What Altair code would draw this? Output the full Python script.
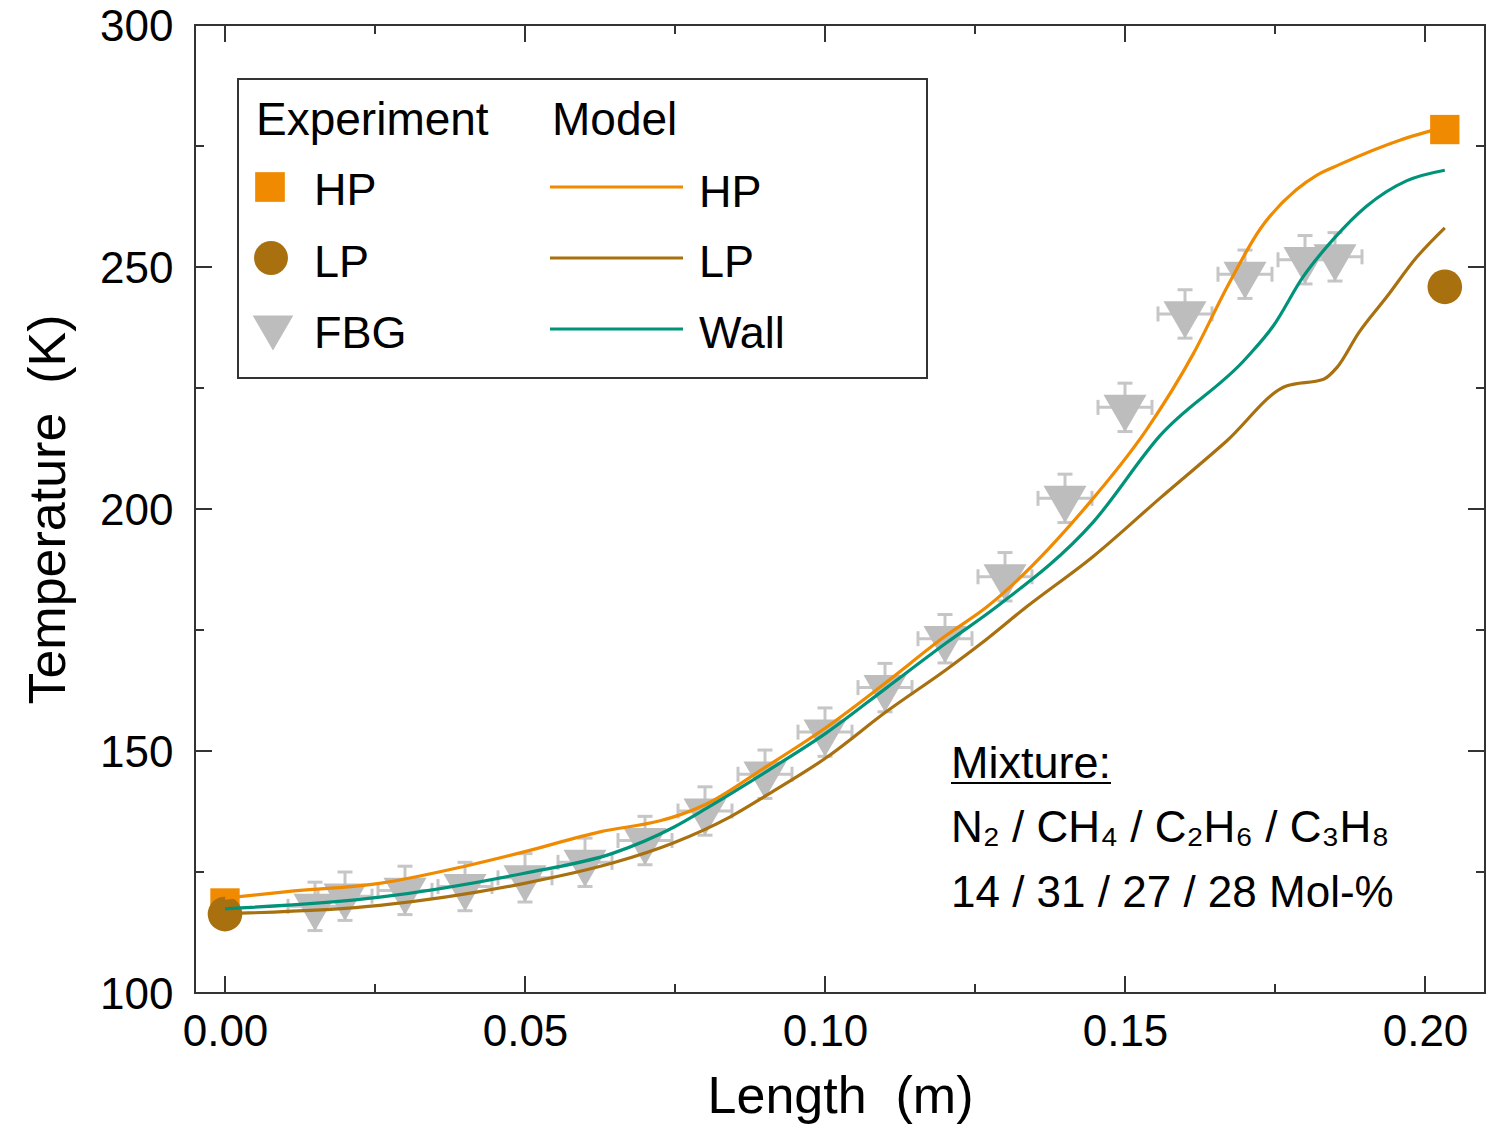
import altair as alt
import pandas as pd

# ---------------- data ----------------
hp_model_x = [0.0, 0.01, 0.026, 0.04, 0.05, 0.0625, 0.0725, 0.0758, 0.08, 0.09, 0.10, 0.11, 0.12, 0.127,
              0.1436, 0.1536, 0.1614, 0.167, 0.1725, 0.1786, 0.182, 0.1858, 0.1958, 0.2033]
hp_model_T = [119.6, 120.9, 122.7, 126.2, 129.2, 133.3, 135.6, 136.8, 138.9, 146.6, 154.7, 164.0, 173.7, 179.8,
              200.6, 216.4, 232.1, 245.8, 257.8, 266.0, 269.0, 271.2, 276.2, 278.9]
lp_model_x = [0.0, 0.0258, 0.0497, 0.065, 0.0747, 0.0842, 0.0903, 0.1003, 0.1103, 0.1203, 0.1258, 0.1336,
              0.1447, 0.1558, 0.1669, 0.1769, 0.1831, 0.1853, 0.189, 0.1936, 0.1986, 0.2033]
lp_model_T = [116.4, 118.1, 122.6, 127.0, 131.0, 136.4, 140.9, 148.7, 158.2, 166.9, 172.0, 179.8,
              190.2, 202.2, 214.0, 225.4, 226.8, 229.2, 236.5, 243.8, 252.0, 258.1]
wall_model_x = [0.0, 0.0258, 0.0497, 0.0647, 0.0747, 0.0803, 0.0903, 0.1003, 0.1103, 0.1203, 0.1286,
                0.1447, 0.1558, 0.1703, 0.1747, 0.1797, 0.1847, 0.1903, 0.1969, 0.2033]
wall_model_T = [117.4, 119.8, 124.7, 128.9, 134.2, 138.2, 145.8, 153.8, 163.1, 172.4, 179.8,
                197.3, 215.1, 231.3, 237.8, 248.0, 255.7, 262.6, 267.8, 270.0]

fbg_x = [0.015, 0.020, 0.030, 0.040, 0.050, 0.060, 0.070, 0.080, 0.090, 0.100, 0.110, 0.120,
         0.130, 0.140, 0.150, 0.160, 0.170, 0.180, 0.185]
fbg_T = [117.9, 120.0, 121.2, 122.0, 123.8, 127.0, 131.5, 137.6, 145.2, 153.9, 163.1, 173.2,
         186.0, 202.2, 221.0, 240.3, 248.5, 251.5, 252.1]
fbg_xerr = 0.0045
fbg_Terr = 5.0

hp_exp_x = [0.0, 0.2033]
hp_exp_T = [118.6, 278.4]
lp_exp_x = [0.0, 0.2033]
lp_exp_T = [116.3, 245.9]

x_major = [0.0, 0.05, 0.10, 0.15, 0.20]
x_minor = [0.025, 0.075, 0.125, 0.175]
y_major = [100, 150, 200, 250, 300]
y_minor = [125, 175, 225, 275]

series_names = ["HP", "LP", "Wall"]
C_HP = "#F08A00"
C_LP = "#A8700F"
C_WALL = "#00937A"
C_FBG = "#BDBDBD"
C_ERR = "#C6C6C6"
C_FRAME = "#333333"

# ---------------- tables ----------------
model_df = pd.concat([
    pd.DataFrame({"x": hp_model_x, "T": hp_model_T, "s": "HP"}),
    pd.DataFrame({"x": lp_model_x, "T": lp_model_T, "s": "LP"}),
    pd.DataFrame({"x": wall_model_x, "T": wall_model_T, "s": "Wall"}),
], ignore_index=True)

fbg_df = pd.DataFrame({"x": fbg_x, "T": fbg_T})
fbg_df["xlo"] = fbg_df["x"] - fbg_xerr
fbg_df["xhi"] = fbg_df["x"] + fbg_xerr
fbg_df["lo"] = fbg_df["T"] - fbg_Terr
fbg_df["hi"] = fbg_df["T"] + fbg_Terr

hp_df = pd.DataFrame({"x": hp_exp_x, "T": hp_exp_T})
lp_df = pd.DataFrame({"x": lp_exp_x, "T": lp_exp_T})
one = pd.DataFrame({"a": [0]})

W, H = 1290, 968
xs = alt.Scale(domain=[-0.005, 0.21], nice=False, zero=False)
ys = alt.Scale(domain=[100, 300], nice=False, zero=False)
FONT = "Liberation Sans"
NB = "\u00a0"

x_axis = alt.Axis(title=f"Length{NB}{NB}(m)", values=x_major, format=".2f", labelFlush=False,
                  labelPadding=17, titlePadding=17)
y_axis = alt.Axis(title=f"Temperature{NB}{NB}(K)", values=y_major, format="d", labelFlush=False,
                  labelPadding=22, titlePadding=24, labelOffset=2)


def X(f="x", axis=None):
    if axis is None:
        return alt.X(f"{f}:Q", scale=xs)
    return alt.X(f"{f}:Q", scale=xs, axis=axis)


def Y(f="T", axis=None):
    if axis is None:
        return alt.Y(f"{f}:Q", scale=ys)
    return alt.Y(f"{f}:Q", scale=ys, axis=axis)


# error bars
err_v = alt.Chart(fbg_df).mark_rule(color=C_ERR, strokeWidth=3).encode(
    x=X(axis=x_axis), y=Y("lo", axis=y_axis), y2="hi:Q")
err_h = alt.Chart(fbg_df).mark_rule(color=C_ERR, strokeWidth=3).encode(y=Y(), x=X("xlo"), x2="xhi:Q")
cap_lo = alt.Chart(fbg_df).mark_tick(color=C_ERR, orient="horizontal", size=15, thickness=3, opacity=1).encode(x=X(), y=Y("lo"))
cap_hi = alt.Chart(fbg_df).mark_tick(color=C_ERR, orient="horizontal", size=15, thickness=3, opacity=1).encode(x=X(), y=Y("hi"))
cap_l = alt.Chart(fbg_df).mark_tick(color=C_ERR, orient="vertical", size=15, thickness=3, opacity=1).encode(x=X("xlo"), y=Y())
cap_r = alt.Chart(fbg_df).mark_tick(color=C_ERR, orient="vertical", size=15, thickness=3, opacity=1).encode(x=X("xhi"), y=Y())

fbg_pts = alt.Chart(fbg_df).mark_point(shape="triangle-down", filled=True, size=1850, color=C_FBG,
                                       opacity=1, yOffset=6).encode(x=X(), y=Y())

hp_pts = alt.Chart(hp_df).mark_point(shape="square", filled=True, size=860, color=C_HP, opacity=1).encode(x=X(), y=Y())
lp_pts = alt.Chart(lp_df).mark_point(shape="circle", filled=True, size=1200, color=C_LP, opacity=1).encode(x=X(), y=Y())

lines = alt.Chart(model_df).mark_line(strokeWidth=3.2, interpolate="monotone").encode(
    x=X(), y=Y(),
    color=alt.Color("s:N", scale=alt.Scale(domain=series_names, range=[C_HP, C_LP, C_WALL]), legend=None),
    order=alt.Order("x:Q"),
)

# inward ticks on all four sides
xmaj = pd.DataFrame({"x": x_major})
xmin = pd.DataFrame({"x": x_minor})
ymaj = pd.DataFrame({"T": y_major})
ymin = pd.DataFrame({"T": y_minor})


def xticks(df, y0, y1):
    return alt.Chart(df).mark_rule(color=C_FRAME, strokeWidth=2).encode(x=X(), y=alt.value(y0), y2=alt.value(y1))


def yticks(df, x0, x1):
    return alt.Chart(df).mark_rule(color=C_FRAME, strokeWidth=2).encode(y=Y(), x=alt.value(x0), x2=alt.value(x1))


ticks = [
    xticks(xmaj, H, H - 17), xticks(xmin, H, H - 9), xticks(xmaj, 0, 17), xticks(xmin, 0, 9),
    yticks(ymaj, 0, 17), yticks(ymin, 0, 9), yticks(ymaj, W, W - 17), yticks(ymin, W, W - 9),
]

# legend (drawn by hand)
def txt(s, x, y, size=45):
    return alt.Chart(one).mark_text(text=s, align="left", baseline="alphabetic", fontSize=size,
                                    font=FONT, color="black").encode(x=alt.value(x), y=alt.value(y))


def lgd_line(color, y):
    return alt.Chart(one).mark_rule(color=color, strokeWidth=3.2).encode(
        x=alt.value(355), x2=alt.value(488), y=alt.value(y))


legend_box = alt.Chart(one).mark_rect(fill="white", stroke=C_FRAME, strokeWidth=2).encode(
    x=alt.value(43), x2=alt.value(732), y=alt.value(54), y2=alt.value(353))
legend_items = [
    legend_box,
    txt("Experiment", 61, 110, 46), txt("Model", 357, 110, 46),
    alt.Chart(one).mark_point(shape="square", filled=True, size=880, color=C_HP, opacity=1).encode(x=alt.value(75), y=alt.value(162)),
    alt.Chart(one).mark_point(shape="circle", filled=True, size=1150, color=C_LP, opacity=1).encode(x=alt.value(76), y=alt.value(233)),
    alt.Chart(one).mark_point(shape="triangle-down", filled=True, size=1650, color=C_FBG, opacity=1).encode(x=alt.value(78), y=alt.value(308)),
    txt("HP", 119, 180), txt("LP", 119, 252), txt("FBG", 119, 323),
    lgd_line(C_HP, 162), lgd_line(C_LP, 233), lgd_line(C_WALL, 304),
    txt("HP", 504, 182), txt("LP", 504, 252), txt("Wall", 504, 323),
]

# mixture annotation
mixture = [
    txt("Mixture:", 756, 753, 45),
    alt.Chart(one).mark_rule(color="black", strokeWidth=2).encode(x=alt.value(756), x2=alt.value(916), y=alt.value(758)),
    txt("N₂ / CH₄ / C₂H₆ / C₃H₈", 756, 817, 44),
    txt("14 / 31 / 27 / 28 Mol-%", 756, 882, 44),
]

chart = alt.layer(
    err_v, err_h, cap_lo, cap_hi, cap_l, cap_r, fbg_pts, hp_pts, lp_pts, lines,
    *ticks, *legend_items, *mixture,
).properties(
    width=W, height=H,
    autosize=alt.AutoSizeParams(type="none"),
    padding={"left": 187, "top": 17, "right": 3, "bottom": 132},
).configure(font=FONT, background="white").configure_view(
    stroke=C_FRAME, strokeWidth=2
).configure_axis(
    ticks=False, tickSize=0, domain=False, grid=False, labelFontSize=44, titleFontSize=52,
    titleFontWeight="normal", labelColor="black", titleColor="black", labelFont=FONT, titleFont=FONT,
    labelOverlap=False,
)

chart.save("out.html", embed_options={"renderer": "svg", "actions": False})
